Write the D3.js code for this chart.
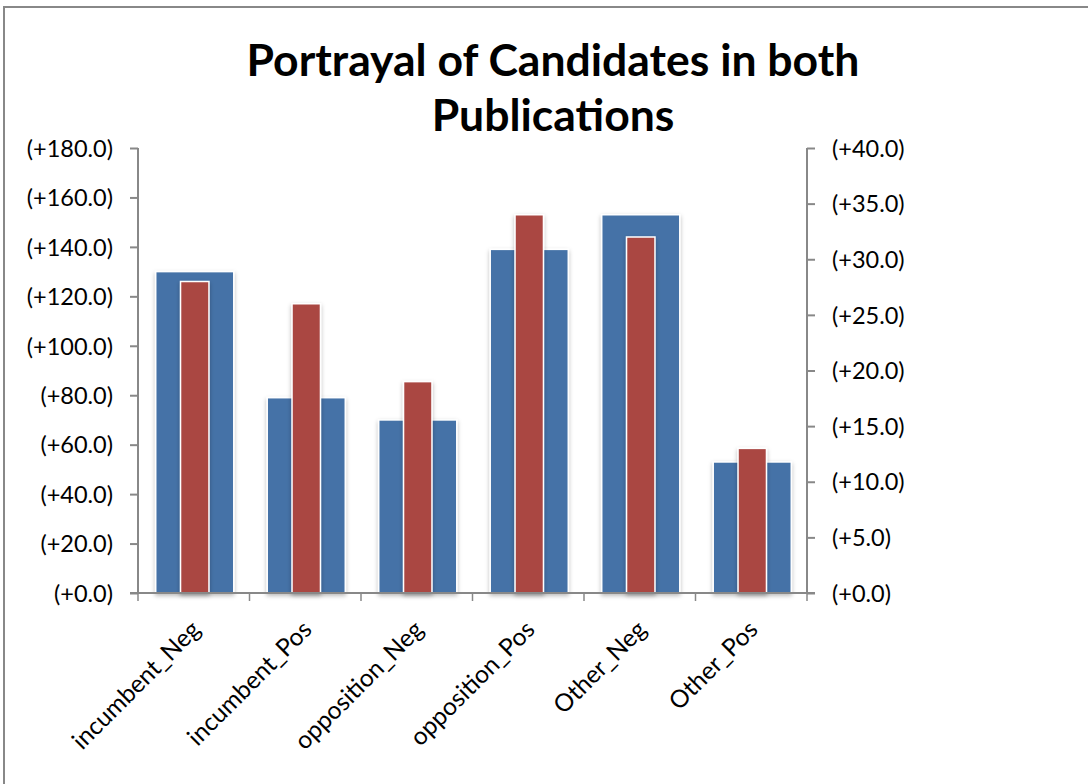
<!DOCTYPE html>
<html>
<head>
<meta charset="utf-8">
<script src="https://cdn.jsdelivr.net/npm/d3@7/dist/d3.min.js"></script>
<style>
  html, body { margin: 0; padding: 0; background: #fff; }
  svg { display: block; }
  text { font-family: Lato, "Open Sans", sans-serif; fill: #000; }
</style>
</head>
<body>
<svg id="chart" width="1088" height="784"></svg>
<script>
// Categories and the two series (blue on left axis, red on right axis)
const categories = ["incumbent_Neg", "incumbent_Pos", "opposition_Neg", "opposition_Pos", "Other_Neg", "Other_Pos"];
const primaryValues = [130, 79, 70, 139, 153, 53];
const secondaryValues = [28, 26, 19, 34, 32, 13];
const leftTicks = [0, 20, 40, 60, 80, 100, 120, 140, 160, 180];
const rightTicks = [0, 5, 10, 15, 20, 25, 30, 35, 40];
const titleLines = ["Portrayal of Candidates in both", "Publications"];

const svg = d3.select("#chart");
const W = 1088, H = 784;

// Outer frame
svg.append("rect")
  .attr("x", 4).attr("y", 7).attr("width", W + 20).attr("height", H + 20)
  .attr("fill", "#fff").attr("stroke", "#888").attr("stroke-width", 2);

const defs = svg.append("defs");
const f = defs.append("filter").attr("id", "shadow")
  .attr("x", "-20%").attr("y", "-10%").attr("width", "140%").attr("height", "125%");
f.append("feDropShadow").attr("dx", 0).attr("dy", 2).attr("stdDeviation", 2)
  .attr("flood-color", "#000").attr("flood-opacity", 0.28);

const plot = { left: 138, right: 807, top: 148, bottom: 593 };

const x = d3.scaleBand().domain(categories).range([plot.left, plot.right]).paddingInner(0).paddingOuter(0);
const yL = d3.scaleLinear().domain([0, 180]).range([plot.bottom, plot.top]);
const yR = d3.scaleLinear().domain([0, 40]).range([plot.bottom, plot.top]);

const fmt = v => "(+" + d3.format(".1f")(v) + ")";

// Title
svg.append("text")
  .attr("text-anchor", "middle")
  .style("font-size", "44.5px").style("font-weight", "bold")
  .selectAll("tspan").data(titleLines).join("tspan")
  .attr("x", 553).attr("y", (d, i) => 76 + i * 55)
  .text(d => d);

// Blue bars (primary axis)
const blueW = x.bandwidth() * 0.70;
svg.append("g").selectAll("rect").data(categories).join("rect")
  .attr("x", (d) => x(d) + x.bandwidth() / 2 - blueW / 2 + 1)
  .attr("width", blueW)
  .attr("y", (d, i) => yL(primaryValues[i]))
  .attr("height", (d, i) => yL(0) - yL(primaryValues[i]))
  .attr("fill", "#4572A7")
  .attr("stroke", "#fff").attr("stroke-width", 1.5)
  .attr("filter", "url(#shadow)");

// Red bars (secondary axis)
const redW = x.bandwidth() * 0.255;
svg.append("g").selectAll("rect").data(categories).join("rect")
  .attr("x", (d) => x(d) + x.bandwidth() / 2 - redW / 2 + 1)
  .attr("width", redW)
  .attr("y", (d, i) => yR(secondaryValues[i]))
  .attr("height", (d, i) => yR(0) - yR(secondaryValues[i]))
  .attr("fill", "#AA4643")
  .attr("stroke", "#fff").attr("stroke-width", 1.5)
  .attr("filter", "url(#shadow)");

// Left axis
const gL = svg.append("g").attr("transform", `translate(${plot.left},0)`)
  .call(d3.axisLeft(yL).tickValues(leftTicks).tickFormat(fmt).tickSize(8).tickPadding(17));
// Right axis
const gR = svg.append("g").attr("transform", `translate(${plot.right},0)`)
  .call(d3.axisRight(yR).tickValues(rightTicks).tickFormat(fmt).tickSize(8).tickPadding(17));

[gL, gR].forEach(g => {
  g.select(".domain").attr("stroke", "#888").attr("stroke-width", 2)
    .attr("d", `M0,${plot.top}V${plot.bottom}`);
  g.selectAll(".tick line").attr("stroke", "#888").attr("stroke-width", 2);
  g.selectAll(".tick text").style("font-size", "23.5px").attr("font-family", null).attr("dy", "0.35em");
});

// Bottom category axis
const gB = svg.append("g").attr("transform", `translate(0,${plot.bottom})`);
gB.append("line").attr("x1", plot.left - 8).attr("x2", plot.right + 8)
  .attr("stroke", "#888").attr("stroke-width", 2);
const edges = categories.map(c => x(c)).concat([plot.right]);
gB.selectAll("line.tk").data(edges).join("line").attr("class", "tk")
  .attr("x1", d => d).attr("x2", d => d).attr("y1", 0).attr("y2", 8)
  .attr("stroke", "#888").attr("stroke-width", 1.5);
gB.selectAll("text").data(categories).join("text")
  .attr("transform", d => `translate(${x(d) + x.bandwidth() / 2 + 2},${32}) rotate(-45)`)
  .attr("text-anchor", "end")
  .attr("dy", "0.35em")
  .style("font-size", "24.5px")
  .text(d => d);
</script>
</body>
</html>
